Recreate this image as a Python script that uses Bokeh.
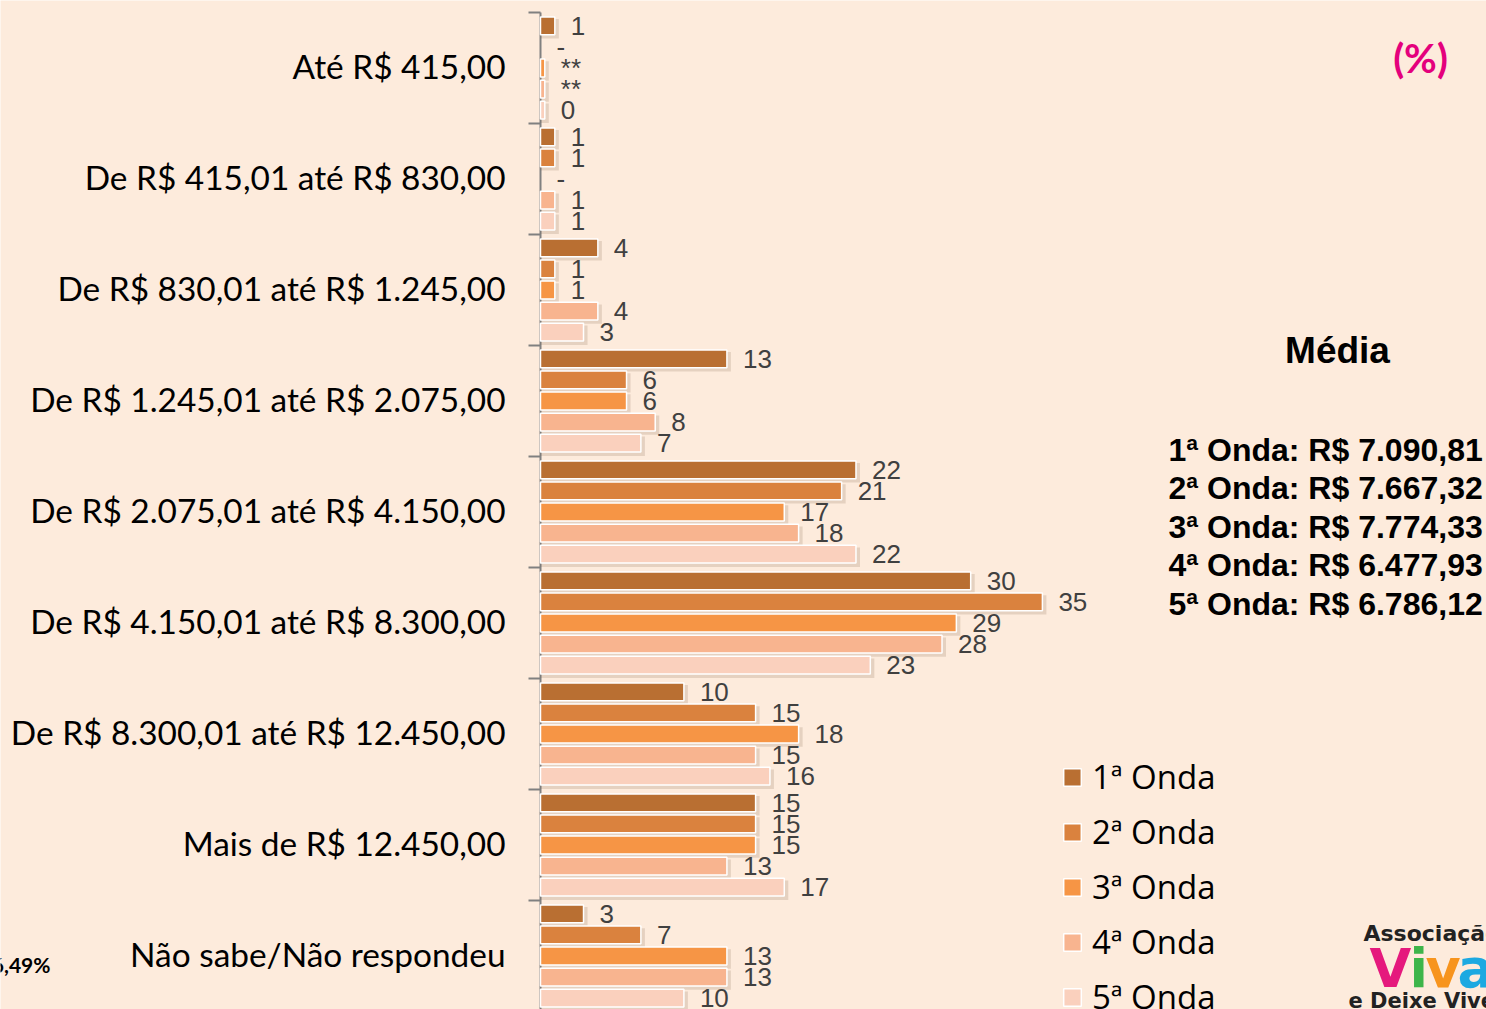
from bokeh.plotting import figure
from bokeh.models import ColumnDataSource, Legend, LegendItem, Label, Range1d
from bokeh.core.properties import value
from bokeh.embed import file_html
from bokeh.resources import INLINE

categories = [
    "Até R$ 415,00",
    "De R$ 415,01 até R$ 830,00",
    "De R$ 830,01 até R$ 1.245,00",
    "De R$ 1.245,01 até R$ 2.075,00",
    "De R$ 2.075,01 até R$ 4.150,00",
    "De R$ 4.150,01 até R$ 8.300,00",
    "De R$ 8.300,01 até R$ 12.450,00",
    "Mais de R$ 12.450,00",
    "Não sabe/Não respondeu",
]
series = ["1ª Onda", "2ª Onda", "3ª Onda", "4ª Onda", "5ª Onda"]

onda1 = [1, 1, 4, 13, 22, 30, 10, 15, 3]
onda2 = [0, 1, 1, 6, 21, 35, 15, 15, 7]
onda3 = [0.3, 0, 1, 6, 17, 29, 18, 15, 13]
onda4 = [0.3, 1, 4, 8, 18, 28, 15, 13, 13]
onda5 = [0.3, 1, 3, 7, 22, 23, 16, 17, 10]

onda1_lbl = ["1", "1", "4", "13", "22", "30", "10", "15", "3"]
onda2_lbl = ["-", "1", "1", "6", "21", "35", "15", "15", "7"]
onda3_lbl = ["**", "-", "1", "6", "17", "29", "18", "15", "13"]
onda4_lbl = ["**", "1", "4", "8", "18", "28", "15", "13", "13"]
onda5_lbl = ["0", "1", "3", "7", "22", "23", "16", "17", "10"]

media_title = "Média"
media_lines = [
    "1ª Onda: R$ 7.090,81",
    "2ª Onda: R$ 7.667,32",
    "3ª Onda: R$ 7.774,33",
    "4ª Onda: R$ 6.477,93",
    "5ª Onda: R$ 6.786,12",
]
unit_text = "(%)"
fragment_text = "6,49%"

values = [onda1, onda2, onda3, onda4, onda5]
labels = [onda1_lbl, onda2_lbl, onda3_lbl, onda4_lbl, onda5_lbl]
colors = ["#B96F32", "#DA823E", "#F69545", "#F8B48F", "#FAD0BD"]
offsets = [0.38, 0.19, 0.0, -0.19, -0.38]

BG = "#FDEBDC"
W, H = 1486, 1009
AX = 540             # pixel column of the zero line
PXU = 14.34          # px per % unit
GROUP = 111.0        # px per category
TOP = 12             # pixel row of the first category boundary
x0 = -AX / PXU
y1 = 9 + TOP / GROUP
y0 = y1 - H / GROUP

n = len(categories)
centers = [n - 0.5 - i for i in range(n)]

p = figure(width=W, height=H, output_backend="svg", toolbar_location=None,
           x_range=Range1d(x0, x0 + W / PXU), y_range=Range1d(y0, y1),
           x_axis_location=None, y_axis_location=None,
           min_border=0, background_fill_color=BG, border_fill_color=BG,
           outline_line_color=None)
p.xgrid.visible = False
p.ygrid.visible = False

# category labels, through the y scale
cat_src = ColumnDataSource(dict(y=centers, t=categories, x=[0] * n))
p.text(x="x", y="y", text="t", source=cat_src, x_offset=-35, y_offset=-2,
       text_align="right", text_baseline="middle", text_font=value("Lato"),
       text_font_size="33.4px", text_color="#000000")

# axis line and boundary ticks
bounds = list(range(n + 1))
tick_len = 12 / PXU
p.segment(x0=[0], y0=[0], x1=[0], y1=[n], line_color="#808080", line_width=2)
p.segment(x0=[-tick_len] * len(bounds), y0=bounds, x1=[0] * len(bounds), y1=bounds,
          line_color="#808080", line_width=2)

renderers = []
for k in range(5):
    ys = [c + offsets[k] for c in centers]
    vals = values[k]
    keep = [i for i in range(n) if vals[i] > 0]
    src = ColumnDataSource(dict(y=[ys[i] for i in keep], right=[vals[i] for i in keep]))
    shadow = ColumnDataSource(dict(y=[ys[i] - 3 / GROUP for i in keep],
                                   right=[vals[i] + 4 / PXU for i in keep]))
    p.hbar(y="y", left=0, right="right", height=0.175, source=shadow,
           fill_color="#6b4a30", fill_alpha=0.16, line_color=None)
    r = p.hbar(y="y", left=0, right="right", height=0.16, source=src,
               fill_color=colors[k], line_color="white", line_width=1.5)
    renderers.append(r)
    lsrc = ColumnDataSource(dict(x=vals, y=ys, t=labels[k]))
    p.text(x="x", y="y", text="t", source=lsrc, x_offset=16, y_offset=0,
           text_align="left", text_baseline="middle",
           text_font=value("Liberation Sans"), text_font_size="26px",
           text_color="#404040")

legend = Legend(items=[LegendItem(label=s, renderers=[r]) for s, r in zip(series, renderers)],
                location=(1061, -10), orientation="vertical",
                glyph_width=22, glyph_height=22, label_standoff=9, spacing=10,
                padding=0, margin=0, background_fill_alpha=0, border_line_alpha=0,
                label_text_font="Open Sans", label_text_font_size="33px",
                label_text_color="#000000")
p.add_layout(legend)


def dx(cx):
    return (cx - AX) / PXU


def dy(cy):
    return y1 - cy / GROUP


p.add_layout(Label(x=dx(1420), y=dy(57), text=unit_text, text_align="center",
                   text_baseline="middle", text_font="Lato", text_font_style="bold",
                   text_font_size="40px", text_color="#E4007C"))
p.add_layout(Label(x=dx(1337), y=dy(350), text=media_title, text_align="center",
                   text_baseline="middle", text_font="Liberation Sans",
                   text_font_style="bold", text_font_size="37px", text_color="#000000"))
for j, line in enumerate(media_lines):
    p.add_layout(Label(x=dx(1168), y=dy(449 + 38.5 * j), text=line, text_align="left",
                       text_baseline="middle", text_font="Liberation Sans",
                       text_font_style="bold", text_font_size="32px",
                       text_color="#000000"))

# logo fragment (cut by the right edge)
p.add_layout(Label(x=dx(1363), y=dy(933), text="Associação", text_align="left",
                   text_baseline="middle", text_font="DejaVu Sans", text_font_style="bold",
                   text_font_size="22px", text_color="#222222"))
for ch, cx, col in [("V", 1369, "#E5197D"), ("i", 1409, "#3DB54A"),
                    ("v", 1425, "#F7941D"), ("a", 1457, "#1CA9E1")]:
    p.add_layout(Label(x=dx(cx), y=dy(968), text=ch, text_align="left",
                       text_baseline="middle", text_font="DejaVu Sans",
                       text_font_style="bold", text_font_size="54px", text_color=col))
p.add_layout(Label(x=dx(1348), y=dy(1000), text="e Deixe Viver", text_align="left",
                   text_baseline="middle", text_font="DejaVu Sans", text_font_style="bold",
                   text_font_size="21px", text_color="#222222"))

# fragment at bottom-left, cut by the left edge
p.add_layout(Label(x=dx(50), y=dy(964), text=fragment_text, text_align="right",
                   text_baseline="middle", text_font="Lato", text_font_style="bold",
                   text_font_size="21px", text_color="#000000"))

open("out.html", "w").write(file_html(p, INLINE))
